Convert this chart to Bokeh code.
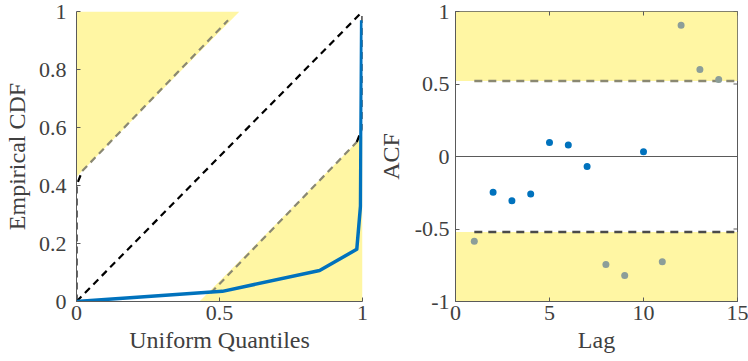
import math
from bokeh.plotting import figure
from bokeh.layouts import row
from bokeh.models import FixedTicker, Range1d
from bokeh.embed import file_html
from bokeh.resources import INLINE

# ---------------- data ----------------
# left panel: uniform QQ (empirical CDF vs uniform quantiles)
qq_x = [0.0, 0.51, 0.85, 0.98, 0.993, 0.997]
qq_y = [0.0, 0.035, 0.107, 0.18, 0.33, 0.97]
diag_x = [0.0, 1.0]
diag_y = [0.0, 1.0]
band = 0.43
upper_black_x = [0.0, 0.0, 0.02]
upper_black_y = [0.0, 0.40, 0.45]
upper_gray_x = [0.02, 0.53]
upper_gray_y = [0.45, 0.97]
lower_gray_x = [0.47, 0.98]
lower_gray_y = [0.03, 0.55]
lower_black_x = [0.98, 1.0, 1.0]
lower_black_y = [0.55, 0.60, 1.0]
qq_xticks = [0, 0.5, 1]
qq_xlabels = ["0", "0.5", "1"]
qq_yticks = [0, 0.2, 0.4, 0.6, 0.8, 1]
qq_ylabels = ["0", "0.2", "0.4", "0.6", "0.8", "1"]

# right panel: ACF
lags = [1, 2, 3, 4, 5, 6, 7, 8, 9, 10, 11, 12, 13, 14]
acf = [-0.584, -0.247, -0.305, -0.259, 0.097, 0.079, -0.069,
       -0.744, -0.820, 0.032, -0.725, 0.905, 0.600, 0.531]
conf = 0.52
max_lag = 15
acf_xticks = [0, 5, 10, 15]
acf_xlabels = ["0", "5", "10", "15"]
acf_yticks = [-1, -0.5, 0, 0.5, 1]
acf_ylabels = ["-1", "-0.5", "0", "0.5", "1"]

# ---------------- style ----------------
FONT = "'Liberation Serif', 'Times New Roman', Times, serif"
TXT = "#404040"
AX = "#5a5a5a"
YEL = "#FFF6A3"
BLUE = "#0072BD"
GRAYPT = "#8c9e99"
GRAYLN = "#8a8872"


def style(p, xt, xl, yt, yl, ystand, ylabstand):
    p.xaxis.ticker = FixedTicker(ticks=xt)
    p.yaxis.ticker = FixedTicker(ticks=yt)
    p.xaxis.major_label_overrides = {float(t): s for t, s in zip(xt, xl)}
    p.yaxis.major_label_overrides = {float(t): s for t, s in zip(yt, yl)}
    for ax in (p.xaxis[0], p.yaxis[0]):
        ax.major_tick_in = 4
        ax.major_tick_out = 0
        ax.minor_tick_line_color = None
        ax.axis_line_color = AX
        ax.major_tick_line_color = AX
        ax.major_label_text_font = FONT
        ax.major_label_text_font_size = "22px"
        ax.major_label_text_color = TXT
        ax.axis_label_text_font = FONT
        ax.axis_label_text_font_size = "24px"
        ax.axis_label_text_color = TXT
        ax.axis_label_text_font_style = "normal"
    p.xaxis.major_label_standoff = 4
    p.xaxis.axis_label_standoff = 4
    p.yaxis.major_label_standoff = ystand
    p.yaxis.axis_label_standoff = ylabstand
    p.grid.visible = False
    p.background_fill_color = "white"
    p.border_fill_color = "white"


# ---------------- left ----------------
p1 = figure(frame_width=286, frame_height=290,
            x_range=Range1d(0, 1), y_range=Range1d(0, 1),
            output_backend="svg", toolbar_location=None,
            min_border_left=60, min_border_right=12, min_border_top=11,
            min_border_bottom=0,
            x_axis_label="Uniform Quantiles", y_axis_label="Empirical CDF")
style(p1, qq_xticks, qq_xlabels, qq_yticks, qq_ylabels, 10, 6)
p1.outline_line_color = None

p1.patch([0, 1 - band, 0], [band, 1, 1], fill_color=YEL, line_color=None)
p1.patch([band, 1, 1], [0, 1 - band, 0], fill_color=YEL, line_color=None)

p1.line(upper_gray_x, upper_gray_y, line_color=GRAYLN, line_width=2.2, line_dash="7 5")
p1.line(lower_gray_x, lower_gray_y, line_color=GRAYLN, line_width=2.2, line_dash="7 5")
p1.line(upper_black_x, upper_black_y, line_color="black", line_width=2.2, line_dash="7 5")
p1.line(lower_black_x, lower_black_y, line_color="black", line_width=2.2, line_dash="7 5")
p1.line(diag_x, diag_y, line_color="black", line_width=2.2, line_dash="7 5")
p1.line(qq_x, qq_y, line_color=BLUE, line_width=3.5, line_join="round")

# ---------------- right ----------------
p2 = figure(frame_width=282, frame_height=290,
            x_range=Range1d(0, max_lag), y_range=Range1d(-1, 1),
            output_backend="svg", toolbar_location=None,
            min_border_left=78, min_border_right=12, min_border_top=11,
            min_border_bottom=0,
            x_axis_label="Lag", y_axis_label="ACF")
style(p2, acf_xticks, acf_xlabels, acf_yticks, acf_ylabels, 6, 8)
p2.outline_line_color = AX

p2.quad(left=0, right=max_lag, bottom=conf, top=1, fill_color=YEL, line_color=None)
p2.quad(left=0, right=max_lag, bottom=-1, top=-conf, fill_color=YEL, line_color=None)
p2.line([0, max_lag], [0, 0], line_color=AX, line_width=1)
p2.line([1, max_lag], [conf, conf], line_color=GRAYLN, line_width=2.5, line_dash="8 6")
p2.line([1, max_lag], [-conf, -conf], line_color="#4a4a4a", line_width=2.5, line_dash="8 6")

pt_colors = [GRAYPT if abs(v) > conf else BLUE for v in acf]
p2.scatter(lags, acf, size=7, fill_color=pt_colors, line_color=None)

# inward tick marks on the top and right edges of the boxed ACF axes
p2.scatter(acf_xticks, [1] * len(acf_xticks), marker="dash", size=8,
           angle=math.pi / 2, line_color=AX, line_width=1)
p2.scatter([max_lag] * len(acf_yticks), acf_yticks, marker="dash", size=8,
           line_color=AX, line_width=1)

layout = row(p1, p2)
open("out.html", "w").write(file_html(layout, INLINE))
